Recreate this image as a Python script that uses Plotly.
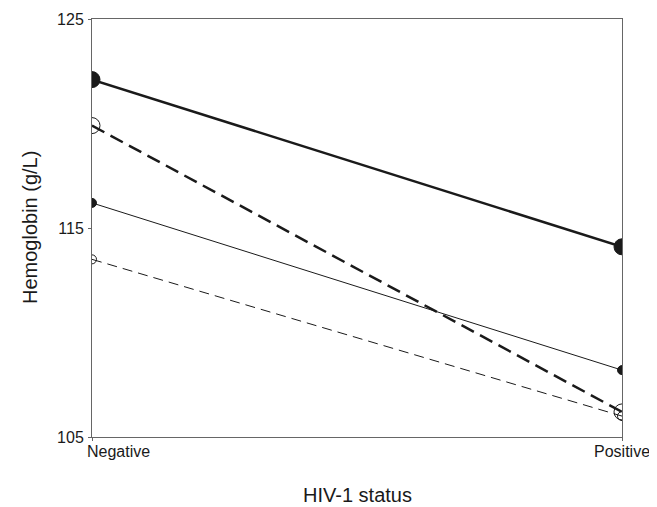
import plotly.graph_objects as go

categories = ["Negative", "Positive"]
series_names = ["Group A", "Group B", "Group C", "Group D"]
thick_solid = [122.1, 114.1]
thick_dashed = [119.9, 106.2]
thin_solid = [116.2, 108.2]
thin_dashed = [113.5, 106.0]
y_ticks = [105, 115, 125]

xpos = [0, 1]
INK = "#1a1a1a"
fig = go.Figure()
specs = [
    (thick_solid, 2.5, "solid", "circle", 16, series_names[0]),
    (thick_dashed, 2.5, "14px,7px", "circle-open", 16, series_names[1]),
    (thin_solid, 1, "solid", "circle", 9, series_names[2]),
    (thin_dashed, 1, "10px,6px", "circle-open", 9, series_names[3]),
]
for vals, w, dash, sym, sz, nm in specs:
    fig.add_trace(go.Scatter(
        x=xpos, y=vals, mode="lines+markers", name=nm,
        line=dict(color=INK, width=w, dash=dash),
        marker=dict(symbol=sym, size=sz, color=INK,
                    line=dict(color=INK, width=1)),
        cliponaxis=True, showlegend=False))

# The page body adds an 8px offset; compensate so the plot area sits where the reference has it.
FONT = "Liberation Sans, Arial, sans-serif"
fig.update_layout(
    width=649, height=499,
    margin=dict(l=84, r=35, t=11, b=70, autoexpand=False),
    plot_bgcolor="white", paper_bgcolor="white",
    font=dict(family=FONT, size=16, color=INK),
)
fig.update_xaxes(
    range=[0, 1], tickvals=xpos, ticktext=["", ""],
    showgrid=False, zeroline=False, automargin=False,
    showline=True, linecolor="#666", linewidth=1, mirror=True,
    ticks="outside", ticklen=3, tickcolor="#666",
)
fig.update_yaxes(
    range=[105, 125], tickvals=y_ticks, automargin=False,
    showgrid=False, zeroline=False,
    showline=True, linecolor="#666", linewidth=1, mirror=True,
    ticks="outside", ticklen=3, tickcolor="#666", ticklabelstandoff=1,
)

# white covers in the margins so the end markers appear clipped at the frame
pad = 0.5
for side in (0, 1):
    for vals, *_ in specs:
        v = vals[side]
        x0, x1 = (-12, -1) if side == 0 else (1, 12)
        fig.add_shape(type="rect", xref="paper", yref="y", xsizemode="pixel",
                      xanchor=side, x0=x0, x1=x1, y0=v - pad, y1=v + pad,
                      fillcolor="white", line=dict(width=0), layer="above")

# category labels (Negative left-aligned near the left axis, Positive centred)
fig.add_annotation(x=xpos[0], y=0, xref="x", yref="paper", text=categories[0],
                   showarrow=False, xanchor="left", yanchor="top", xshift=-7, yshift=-4,
                   font=dict(size=16))
fig.add_annotation(x=xpos[1], y=0, xref="x", yref="paper", text=categories[1],
                   showarrow=False, xanchor="center", yanchor="top", yshift=-4,
                   font=dict(size=16))
# axis titles
fig.add_annotation(x=0.5, y=0, xref="paper", yref="paper", text="HIV-1 status",
                   showarrow=False, xanchor="center", yanchor="middle", yshift=-58,
                   font=dict(size=20))
fig.add_annotation(x=0, y=0.5, xref="paper", yref="paper", text="Hemoglobin (g/L)",
                   showarrow=False, xanchor="center", yanchor="middle", xshift=-62,
                   textangle=-90, font=dict(size=20))
fig.write_html("out.html")
